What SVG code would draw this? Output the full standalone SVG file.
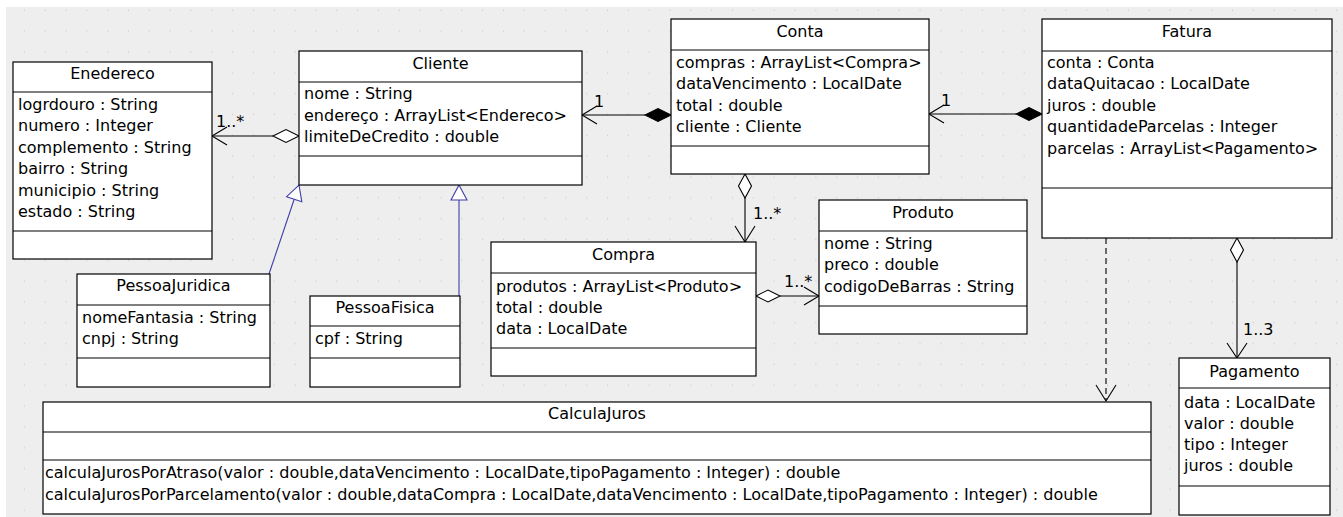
<svg xmlns="http://www.w3.org/2000/svg" width="1343" height="517" viewBox="0 0 1343 517">
<defs>
<pattern id="grid" x="4" y="0" width="20.83" height="20.83" patternUnits="userSpaceOnUse">
<rect x="20.1" y="9.6" width="1.5" height="1.5" fill="#c2c2c2"/>
</pattern>
<style>
.box{fill:#fff;stroke:#000;stroke-width:1.2}
.sep{stroke:#000;stroke-width:1.2}
.t{font-family:"DejaVu Sans",sans-serif;font-size:16px;fill:#000}
.c{text-anchor:middle}
.ln{stroke:#000;stroke-width:1.1;fill:none}
.od{fill:#fff;stroke:#000;stroke-width:1.1}
.fd{fill:#000;stroke:#000;stroke-width:1.1}
.gen{stroke:#3f3fa6;stroke-width:1.1;fill:none}
.tri{fill:#fff;stroke:#3f3fa6;stroke-width:1.1}
.dash{stroke:#000;stroke-width:1.1;fill:none;stroke-dasharray:6 4}
</style>
</defs>
<rect x="0" y="0" width="1343" height="517" fill="#fff"/>
<rect x="6" y="7" width="1337" height="510" fill="#eeeeee"/>
<rect x="6" y="7" width="1337" height="510" fill="url(#grid)"/>

<g id="connectors">
<!-- Enedereco - Cliente -->
<line class="ln" x1="212" y1="136" x2="273" y2="136"/>
<polygon class="od" points="299,136 286,129.5 273,136 286,142.5"/>
<polyline class="ln" points="227,127 212,136 227,145"/>
<text class="t" x="216" y="127">1..*</text>
<!-- Cliente - Conta -->
<line class="ln" x1="582" y1="115" x2="645" y2="115"/>
<polygon class="fd" points="671,115 658,108.5 645,115 658,121.5"/>
<polyline class="ln" points="597,106 582,115 597,124"/>
<text class="t" x="594" y="107">1</text>
<!-- Fatura - Conta -->
<line class="ln" x1="929" y1="114" x2="1016" y2="114"/>
<polygon class="fd" points="1042,114 1029,107.5 1016,114 1029,120.5"/>
<polyline class="ln" points="944,105 929,114 944,123"/>
<text class="t" x="941" y="106">1</text>
<!-- Conta - Compra -->
<polygon class="od" points="745,174 738.5,186 745,198 751.5,186"/>
<line class="ln" x1="745" y1="198" x2="745" y2="242"/>
<polyline class="ln" points="735,226 745,242 755,226"/>
<text class="t" x="753" y="219">1..*</text>
<!-- Compra - Produto -->
<polygon class="od" points="756,296 768,290 780,296 768,302"/>
<line class="ln" x1="780" y1="296" x2="819" y2="296"/>
<polyline class="ln" points="804,287 819,296 804,305"/>
<text class="t" x="784" y="287">1..*</text>
<!-- Fatura - Pagamento -->
<polygon class="od" points="1237,238 1230.5,250 1237,262 1243.5,250"/>
<line class="ln" x1="1237" y1="262" x2="1237" y2="358"/>
<polyline class="ln" points="1227,343 1237,358 1247,343"/>
<text class="t" x="1243" y="335">1..3</text>
<!-- Fatura - CalculaJuros dependency -->
<line class="dash" x1="1106" y1="238" x2="1106" y2="400"/>
<polyline class="ln" points="1096,385 1106,401 1116,385"/>
<!-- Generalizations -->
<line class="gen" x1="269" y1="274" x2="294.2" y2="199.2"/>
<polygon class="tri" points="299,185 301.8,201.8 286.6,196.7"/>
<line class="gen" x1="459" y1="296" x2="459" y2="200"/>
<polygon class="tri" points="459,185 467,200 451,200"/>
</g>

<g id="Enedereco">
<rect class="box" x="13" y="62" width="199" height="197"/>
<line class="sep" x1="13" y1="92" x2="212" y2="92"/>
<line class="sep" x1="13" y1="231" x2="212" y2="231"/>
<text class="t c" x="112.5" y="79">Enedereco</text>
<text class="t" x="18" y="109.5">logrdouro : String</text>
<text class="t" x="18" y="131">numero : Integer</text>
<text class="t" x="18" y="152.5">complemento : String</text>
<text class="t" x="18" y="174">bairro : String</text>
<text class="t" x="18" y="195.5">municipio : String</text>
<text class="t" x="18" y="217">estado : String</text>
</g>

<g id="Cliente">
<rect class="box" x="299" y="51" width="283" height="134"/>
<line class="sep" x1="299" y1="82" x2="582" y2="82"/>
<line class="sep" x1="299" y1="156" x2="582" y2="156"/>
<text class="t c" x="440.5" y="68.5">Cliente</text>
<text class="t" x="304" y="99">nome : String</text>
<text class="t" x="304" y="120.5">endereço : ArrayList&lt;Endereco&gt;</text>
<text class="t" x="304" y="142">limiteDeCredito : double</text>
</g>

<g id="Conta">
<rect class="box" x="671" y="19" width="258" height="155"/>
<line class="sep" x1="671" y1="50" x2="929" y2="50"/>
<line class="sep" x1="671" y1="146" x2="929" y2="146"/>
<text class="t c" x="800" y="36.5">Conta</text>
<text class="t" x="676" y="68">compras : ArrayList&lt;Compra&gt;</text>
<text class="t" x="676" y="89">dataVencimento : LocalDate</text>
<text class="t" x="676" y="110.5">total : double</text>
<text class="t" x="676" y="131.5">cliente : Cliente</text>
</g>

<g id="Fatura">
<rect class="box" x="1042" y="19" width="290" height="219"/>
<line class="sep" x1="1042" y1="51" x2="1332" y2="51"/>
<line class="sep" x1="1042" y1="188" x2="1332" y2="188"/>
<text class="t c" x="1187" y="36.5">Fatura</text>
<text class="t" x="1047" y="67.5">conta : Conta</text>
<text class="t" x="1047" y="89">dataQuitacao : LocalDate</text>
<text class="t" x="1047" y="110.5">juros : double</text>
<text class="t" x="1047" y="132">quantidadeParcelas : Integer</text>
<text class="t" x="1047" y="153.5">parcelas : ArrayList&lt;Pagamento&gt;</text>
</g>

<g id="Produto">
<rect class="box" x="819" y="200" width="208" height="134"/>
<line class="sep" x1="819" y1="231" x2="1027" y2="231"/>
<line class="sep" x1="819" y1="306" x2="1027" y2="306"/>
<text class="t c" x="923" y="217.5">Produto</text>
<text class="t" x="824" y="248.5">nome : String</text>
<text class="t" x="824" y="270">preco : double</text>
<text class="t" x="824" y="291.5">codigoDeBarras : String</text>
</g>

<g id="Compra">
<rect class="box" x="491" y="242" width="265" height="134"/>
<line class="sep" x1="491" y1="273" x2="756" y2="273"/>
<line class="sep" x1="491" y1="348" x2="756" y2="348"/>
<text class="t c" x="623.5" y="259.5">Compra</text>
<text class="t" x="496" y="292">produtos : ArrayList&lt;Produto&gt;</text>
<text class="t" x="496" y="313">total : double</text>
<text class="t" x="496" y="333.5">data : LocalDate</text>
</g>

<g id="PessoaJuridica">
<rect class="box" x="77" y="274" width="193" height="113"/>
<line class="sep" x1="77" y1="305" x2="270" y2="305"/>
<line class="sep" x1="77" y1="358" x2="270" y2="358"/>
<text class="t c" x="173.5" y="291">PessoaJuridica</text>
<text class="t" x="82" y="322.5">nomeFantasia : String</text>
<text class="t" x="82" y="344">cnpj : String</text>
</g>

<g id="PessoaFisica">
<rect class="box" x="310" y="296" width="150" height="91"/>
<line class="sep" x1="310" y1="326" x2="460" y2="326"/>
<line class="sep" x1="310" y1="358" x2="460" y2="358"/>
<text class="t c" x="385" y="313">PessoaFisica</text>
<text class="t" x="315" y="343.5">cpf : String</text>
</g>

<g id="Pagamento">
<rect class="box" x="1179" y="358" width="151" height="157"/>
<line class="sep" x1="1179" y1="388" x2="1330" y2="388"/>
<line class="sep" x1="1179" y1="486" x2="1330" y2="486"/>
<text class="t c" x="1254.5" y="376.5">Pagamento</text>
<text class="t" x="1184" y="408">data : LocalDate</text>
<text class="t" x="1184" y="429">valor : double</text>
<text class="t" x="1184" y="450">tipo : Integer</text>
<text class="t" x="1184" y="471">juros : double</text>
</g>

<g id="CalculaJuros">
<rect class="box" x="43" y="402" width="1108" height="112"/>
<line class="sep" x1="43" y1="432" x2="1151" y2="432"/>
<line class="sep" x1="43" y1="460" x2="1151" y2="460"/>
<text class="t c" x="597" y="419">CalculaJuros</text>
<text class="t" x="45" y="478">calculaJurosPorAtraso(valor : double,dataVencimento : LocalDate,tipoPagamento : Integer) : double</text>
<text class="t" x="45" y="499.5">calculaJurosPorParcelamento(valor : double,dataCompra : LocalDate,dataVencimento : LocalDate,tipoPagamento : Integer) : double</text>
</g>
</svg>
